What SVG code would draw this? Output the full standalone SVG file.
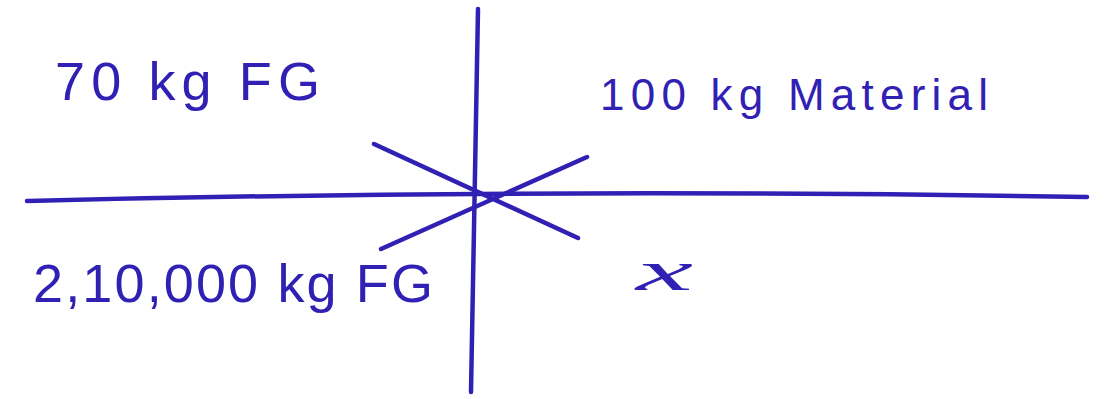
<svg xmlns="http://www.w3.org/2000/svg" width="1107" height="399" viewBox="0 0 1107 399">
<style>
.ink{stroke:#3020b4;stroke-width:4.5;stroke-linecap:round;fill:none}
.t{fill:#3020b4;font-family:"Liberation Sans",Arial,sans-serif}
</style>
<rect width="1107" height="399" fill="#ffffff"/>
<g id="connectors">
<path class="ink" d="M478,9 Q474,200 471,392"/>
<path class="ink" d="M27,201 Q550,188 1087,197"/>
<path class="ink" d="M374,144 L578,238"/>
<path class="ink" d="M381,249 L587,157"/>
</g>
<g id="label-70kg">
<text class="t" x="55" y="100" font-size="54" textLength="265" lengthAdjust="spacing">70 kg FG</text>
</g>
<g id="label-100kg">
<text class="t" x="600" y="110" font-size="44" textLength="388" lengthAdjust="spacing">100 kg Material</text>
</g>
<g id="label-210000kg">
<text class="t" x="33" y="302" font-size="54" textLength="400" lengthAdjust="spacing">2,10,000 kg FG</text>
</g>
<g id="label-x">
<text x="636" y="290" font-size="58" font-style="italic" fill="#3020b4" font-family="'Liberation Serif','Times New Roman',serif" textLength="57" lengthAdjust="spacingAndGlyphs">x</text>
</g>
</svg>
